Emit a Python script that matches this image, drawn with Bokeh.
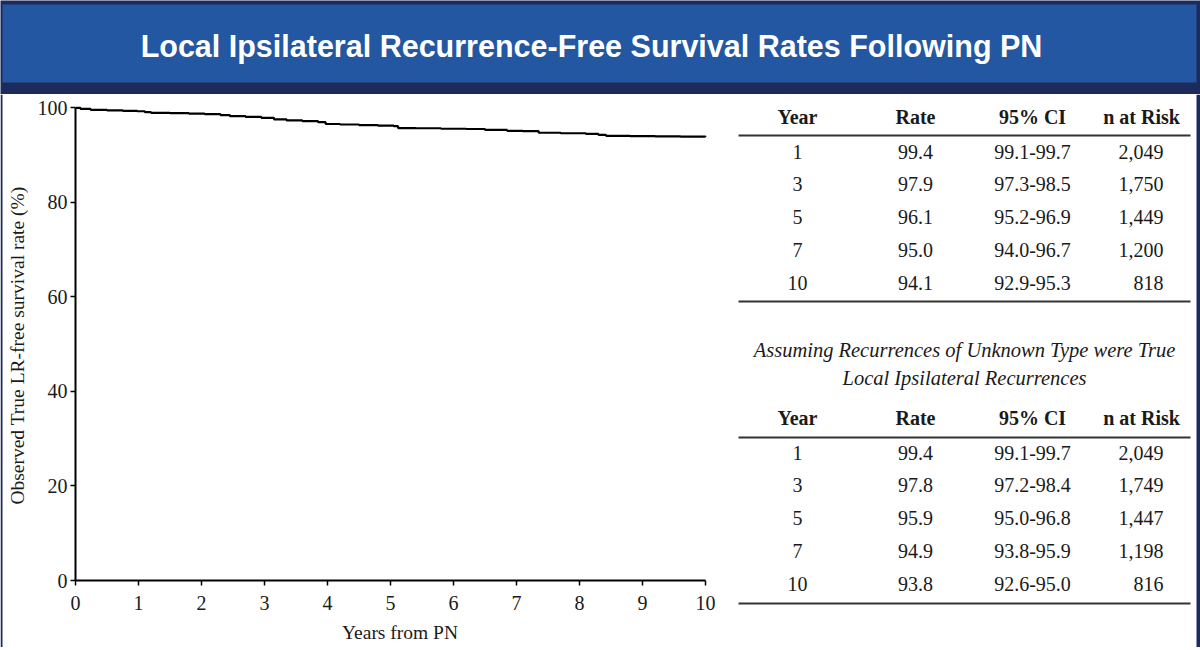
import math
from bokeh.plotting import figure
from bokeh.layouts import column, row
from bokeh.models import Range1d, FixedTicker
from bokeh.core.properties import value
from bokeh.embed import file_html
from bokeh.resources import INLINE

# ---------------- data ----------------
title_text = "Local Ipsilateral Recurrence-Free Survival Rates Following PN"
x_label = "Years from PN"
y_label = "Observed True LR-free survival rate (%)"

years_from_pn = [0, 0.08, 0.24, 0.5, 0.75, 0.98, 1.1, 1.2, 1.5, 1.8, 2.05, 2.3, 2.45,
                 2.7, 2.95, 3.15, 3.35, 3.6, 3.85, 3.97, 4.2, 4.5, 4.8, 5.05, 5.12,
                 5.4, 5.8, 6.2, 6.5, 6.85, 7.1, 7.35, 7.7, 8.1, 8.3, 8.42, 8.8, 9.2,
                 9.6, 10.0]
survival_pct = [100, 99.8, 99.6, 99.5, 99.4, 99.3, 99.1, 98.95, 98.9, 98.8, 98.7, 98.5,
                98.25, 98.1, 97.9, 97.6, 97.35, 97.2, 97.0, 96.6, 96.5, 96.35, 96.25,
                96.15, 95.75, 95.7, 95.6, 95.55, 95.35, 95.15, 95.1, 94.75, 94.65,
                94.5, 94.3, 94.1, 94.05, 94.0, 93.95, 93.9]

x_ticks = list(range(0, 11))
y_ticks = [0, 20, 40, 60, 80, 100]

col_headers = ["Year", "Rate", "95% CI", "n at Risk"]
table_years = ["1", "3", "5", "7", "10"]
t1_rate = ["99.4", "97.9", "96.1", "95.0", "94.1"]
t1_ci = ["99.1-99.7", "97.3-98.5", "95.2-96.9", "94.0-96.7", "92.9-95.3"]
t1_n = ["2,049", "1,750", "1,449", "1,200", "818"]

caption_lines = ["Assuming Recurrences of Unknown Type were True",
                 "Local Ipsilateral Recurrences"]
t2_rate = ["99.4", "97.8", "95.9", "94.9", "93.8"]
t2_ci = ["99.1-99.7", "97.2-98.4", "95.0-96.8", "93.8-95.9", "92.6-95.0"]
t2_n = ["2,049", "1,749", "1,447", "1,198", "816"]

# ---------------- styles ----------------
NAVY = "#1d2b5c"
BLUE = "#2457a1"
INK = "#1a1a1a"
SERIF = "Liberation Serif"


def blank(w, h, bg="white"):
    f = figure(width=w, height=h, x_range=Range1d(0, w), y_range=Range1d(h, 0),
               x_axis_type=None, y_axis_type=None, output_backend="svg",
               toolbar_location=None, min_border=0, outline_line_color=None,
               background_fill_color=bg, border_fill_color=bg, frame_align=False)
    f.grid.visible = False
    return f


# ---------------- header ----------------
header = blank(1200, 94, NAVY)
header.quad(left=[2], right=[1196], top=[4], bottom=[82], fill_color=BLUE, line_color=None)
header.text(x=[591], y=[45], text=[title_text], text_font=value("Liberation Sans"),
            text_font_style="bold", text_font_size="30.5px", text_color="white",
            text_align="center", text_baseline="middle")

# ---------------- left strip with y label ----------------
left = blank(28, 553)
left.quad(left=[0], right=[2], top=[0], bottom=[553], fill_color=NAVY, line_color=None)
left.text(x=[17], y=[251], text=[y_label], angle=math.pi / 2, text_font=value(SERIF),
          text_font_size="19.5px", text_color=INK, text_align="center",
          text_baseline="middle")

# ---------------- chart ----------------
chart = figure(width=707, height=553, x_range=Range1d(0, 10.3), y_range=Range1d(0, 102),
               output_backend="svg", toolbar_location=None, frame_align=False,
               min_border_left=47, min_border_right=11, min_border_top=4,
               min_border_bottom=67, outline_line_color=None,
               background_fill_color="white", border_fill_color="white")
chart.grid.visible = False
chart.step(years_from_pn, survival_pct, mode="after", line_color="black", line_width=2.2)

for ax, ticks in ((chart.xaxis[0], x_ticks), (chart.yaxis[0], y_ticks)):
    ax.ticker = FixedTicker(ticks=ticks)
    ax.bounds = (ticks[0], ticks[-1])
    ax.axis_line_width = 2
    ax.axis_line_color = "black"
    ax.major_tick_line_width = 1.5
    ax.major_tick_out = 5
    ax.major_tick_in = 0
    ax.minor_tick_line_color = None
    ax.major_label_text_font = SERIF
    ax.major_label_text_font_size = "20px"
    ax.major_label_text_color = INK
    ax.axis_label_text_font = SERIF
    ax.axis_label_text_font_size = "19.5px"
    ax.axis_label_text_font_style = "normal"
    ax.axis_label_text_color = INK

chart.xaxis.axis_label = x_label
chart.xaxis.major_label_standoff = 10
chart.xaxis.axis_label_standoff = 9
chart.yaxis.major_label_standoff = 3
chart.yaxis.major_label_orientation = "horizontal"

# ---------------- tables ----------------
tab = blank(465, 553)
tab.quad(left=[461], right=[465], top=[0], bottom=[553], fill_color=NAVY, line_color=None)

col_x = [62, 180, 297, 406]
n_right = 428
row_step = 32.8
line_x0, line_x1 = 3, 455


def draw_table(head_y, line_y, first_row_y, bottom_y, rate, ci, n):
    tab.text(x=col_x, y=[head_y] * 4, text=col_headers, text_font=value(SERIF),
             text_font_style="bold", text_font_size="20px", text_color=INK,
             text_align="center", text_baseline="middle")
    tab.segment(x0=[line_x0, line_x0], x1=[line_x1, line_x1], y0=[line_y, bottom_y],
                y1=[line_y, bottom_y], line_color="#333333", line_width=2.2)
    ys = [first_row_y + i * row_step for i in range(len(table_years))]
    for cx, vals in ((col_x[0], table_years), (col_x[1], rate), (col_x[2], ci)):
        tab.text(x=[cx] * len(vals), y=ys, text=vals, text_font=value(SERIF),
                 text_font_size="20px", text_color=INK, text_align="center",
                 text_baseline="middle")
    tab.text(x=[n_right] * len(n), y=ys, text=n, text_font=value(SERIF),
             text_font_size="20px", text_color=INK, text_align="right",
             text_baseline="middle")


draw_table(22, 41, 57, 207, t1_rate, t1_ci, t1_n)
tab.text(x=[229, 229], y=[255, 283], text=caption_lines, text_font=value(SERIF),
         text_font_style="italic", text_font_size="20.5px", text_color=INK,
         text_align="center", text_baseline="middle")
draw_table(323, 343, 358, 509, t2_rate, t2_ci, t2_n)

bottom = blank(1200, 3, NAVY)

layout = column(header, row(left, chart, tab), bottom)
open("out.html", "w").write(file_html(layout, INLINE))
